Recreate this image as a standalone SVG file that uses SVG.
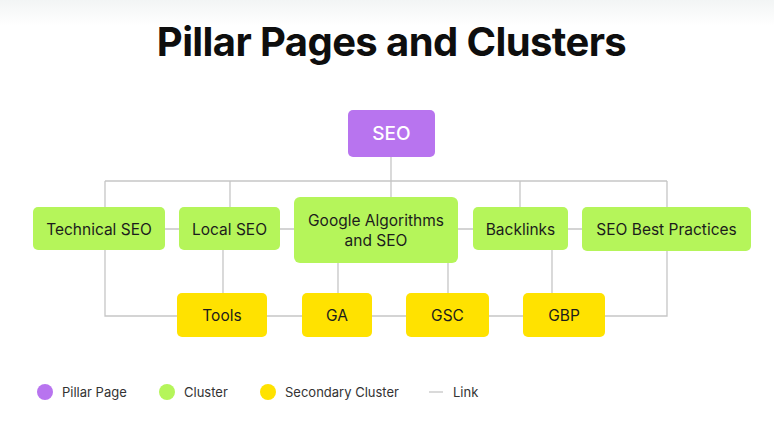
<svg xmlns="http://www.w3.org/2000/svg" width="774" height="437" viewBox="0 0 774 437">
<defs>
<linearGradient id="bg" x1="0" y1="0" x2="0" y2="1"><stop offset="0" stop-color="#f2f5f5"/><stop offset="1" stop-color="#ffffff"/></linearGradient>
</defs>
<style>
.t{font-family:Inter,"Liberation Sans",sans-serif;font-size:15.5px;fill:#1c1c1c;text-anchor:middle;dominant-baseline:central}
.c{fill:#b5f55a}
.y{fill:#ffe200}
.ln{stroke:#c6c6c6;stroke-width:1.3;fill:none}
.lg{font-family:Inter,"Liberation Sans",sans-serif;font-size:13px;fill:#333;dominant-baseline:central}
</style>
<rect width="774" height="437" fill="#fff"/>
<rect width="774" height="26" fill="url(#bg)"/>
<text x="391.5" y="56" font-family="Inter,'Liberation Sans',sans-serif" font-size="40" font-weight="700" letter-spacing="-0.6" fill="#0e0e0e" text-anchor="middle">Pillar Pages and Clusters</text>
<g id="connectors" class="ln">
<path d="M391 157V181M105 181H667M105 181V207M230 181V207M391 181V197M520 181V207M667 181V207"/>
<path d="M165 229H179M280 229H294M458 229H473M568 229H582"/>
<path d="M105 250V316H177M223 250V293M338 263V293M448 263V293M552 250V293M667 251V316H605"/>
<path d="M267 316H302M372 316H406M489 316H523"/>
</g>
<g id="seo"><rect x="348" y="110" width="87" height="47" rx="5" fill="#b874ef"/><text x="391.5" y="133.5" class="t" style="fill:#fff;font-size:19px;font-weight:500">SEO</text></g>
<g id="technical-seo"><rect class="c" x="33" y="207" width="132" height="43" rx="5"/><text class="t" x="99" y="229">Technical SEO</text></g>
<g id="local-seo"><rect class="c" x="179" y="207" width="101" height="43" rx="5"/><text class="t" x="229.5" y="229">Local SEO</text></g>
<g id="google-algorithms"><rect class="c" x="294" y="197" width="164" height="66" rx="6"/><text class="t" x="376" y="220">Google Algorithms</text><text class="t" x="376" y="240">and SEO</text></g>
<g id="backlinks"><rect class="c" x="473" y="207" width="95" height="43" rx="5"/><text class="t" x="520.5" y="229">Backlinks</text></g>
<g id="seo-best-practices"><rect class="c" x="582" y="207" width="169" height="44" rx="5"/><text class="t" x="666.5" y="229">SEO Best Practices</text></g>
<g id="tools"><rect class="y" x="177" y="293" width="90" height="44" rx="5"/><text class="t" x="222" y="315">Tools</text></g>
<g id="ga"><rect class="y" x="302" y="293" width="70" height="44" rx="5"/><text class="t" x="337" y="315">GA</text></g>
<g id="gsc"><rect class="y" x="406" y="293" width="83" height="44" rx="5"/><text class="t" x="447.5" y="315">GSC</text></g>
<g id="gbp"><rect class="y" x="523" y="293" width="82" height="44" rx="5"/><text class="t" x="564" y="315">GBP</text></g>
<g id="legend">
<circle cx="45" cy="392" r="8" fill="#b874ef"/><text class="lg" x="62" y="392">Pillar Page</text>
<circle cx="167" cy="392" r="8" fill="#b5f55a"/><text class="lg" x="184" y="392">Cluster</text>
<circle cx="268" cy="392" r="8" fill="#ffe200"/><text class="lg" x="285" y="392">Secondary Cluster</text>
<line x1="429" y1="392" x2="443" y2="392" class="ln"/><text class="lg" x="453" y="392">Link</text>
</g>
</svg>
